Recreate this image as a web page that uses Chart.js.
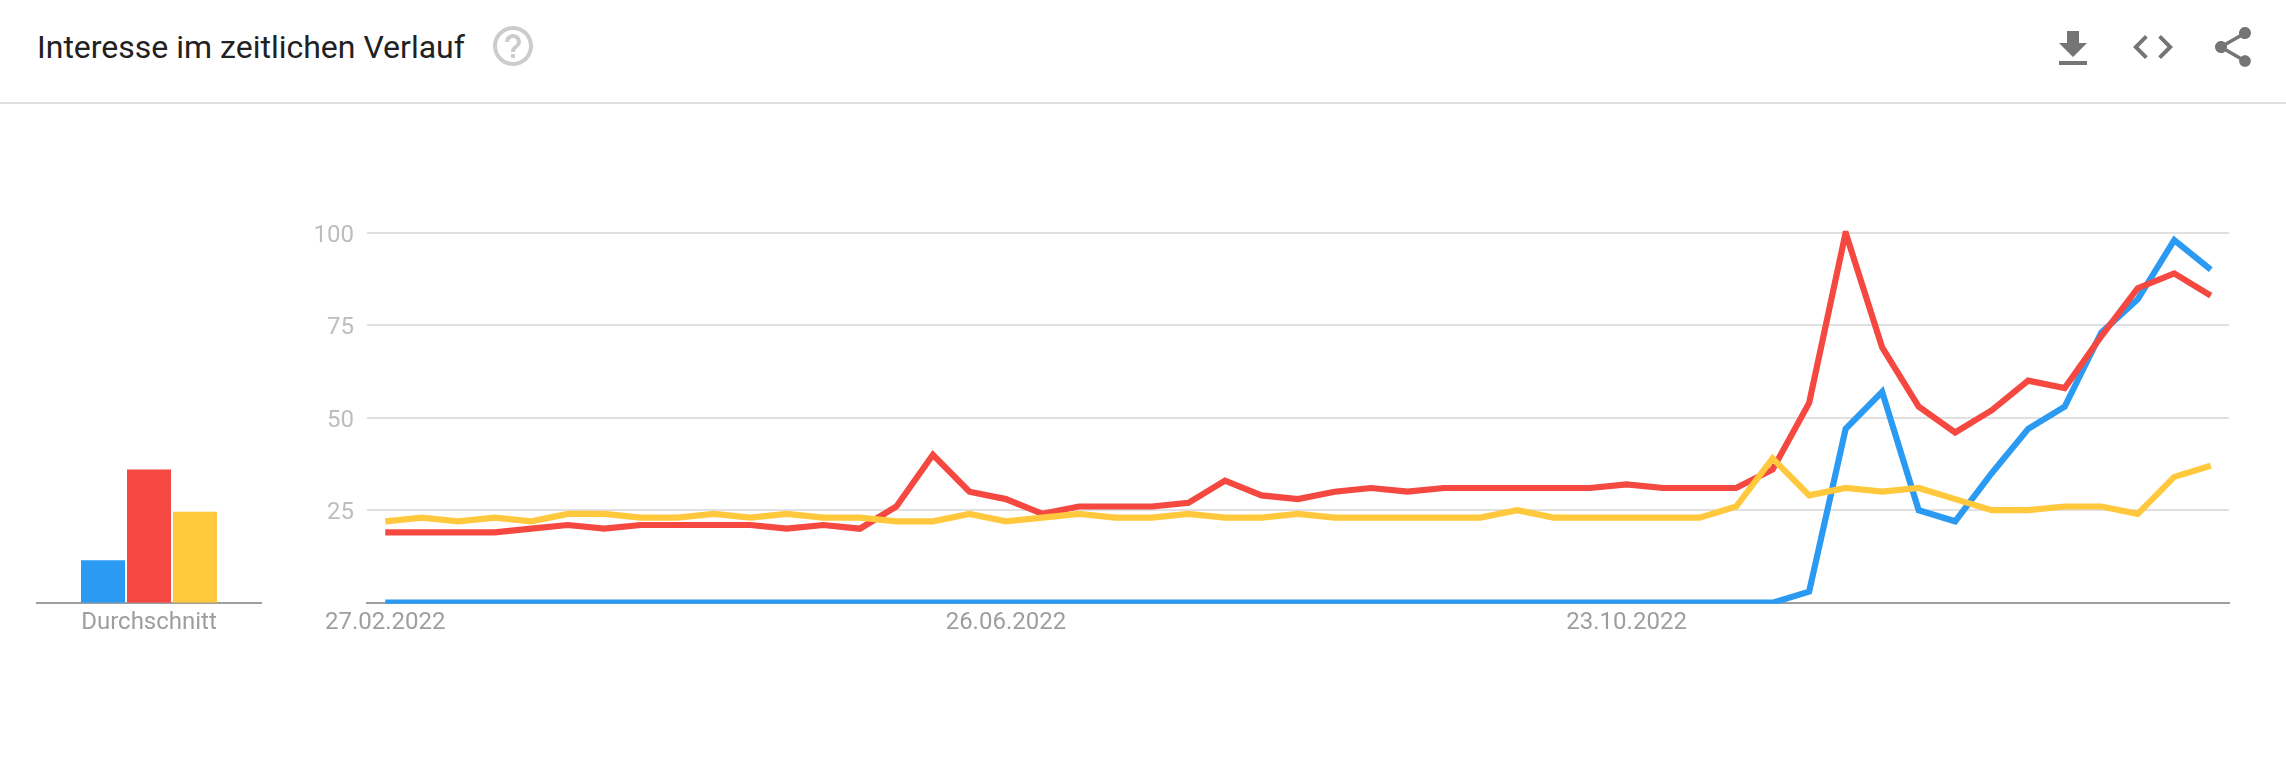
<!DOCTYPE html>
<html lang="de">
<head>
<meta charset="utf-8">
<title>Interesse im zeitlichen Verlauf</title>
<script src="https://cdn.jsdelivr.net/npm/chart.js@4"></script>
<style>
html,body{margin:0;padding:0;background:#fff;width:2286px;height:768px;overflow:hidden;font-family:Roboto,sans-serif}
canvas{position:absolute;left:0;top:0}
#title{position:absolute;left:37px;top:26px;font-size:32px;line-height:42px;color:#212121;white-space:nowrap}
#rule{position:absolute;left:0;top:102px;width:2286px;height:2px;background:#e0e0e0}
svg{position:absolute;width:48px;height:48px}
</style>
</head>
<body>
<div id="title">Interesse im zeitlichen Verlauf</div>
<svg style="left:489px;top:22px" viewBox="0 0 24 24" fill="#cccccc"><path d="M11 18h2v-2h-2v2zm1-16C6.48 2 2 6.48 2 12s4.48 10 10 10 10-4.48 10-10S17.52 2 12 2zm0 18c-4.41 0-8-3.59-8-8s3.59-8 8-8 8 3.59 8 8-3.59 8-8 8zm0-14c-2.21 0-4 1.79-4 4h2c0-1.1.9-2 2-2s2 .9 2 2c0 2-3 1.75-3 5h2c0-2.25 3-2.5 3-5 0-2.21-1.79-4-4-4z"/></svg>
<svg style="left:2049px;top:25px" viewBox="0 0 24 24" fill="#757575"><path d="M19 9h-4V3H9v6H5l7 7 7-7zM5 18v2h14v-2H5z"/></svg>
<svg style="left:2129px;top:23px" viewBox="0 0 24 24" fill="#757575"><path d="M9.4 16.6L4.8 12l4.6-4.6L8 6l-6 6 6 6 1.4-1.4zm5.2 0l4.6-4.6-4.6-4.6L16 6l6 6-6 6-1.4-1.4z"/></svg>
<svg style="left:2209px;top:23px" viewBox="0 0 24 24" fill="#757575"><path d="M18 16.08c-.76 0-1.44.3-1.96.77L8.91 12.7c.05-.23.09-.46.09-.7s-.04-.47-.09-.7l7.05-4.11c.54.5 1.25.81 2.04.81 1.66 0 3-1.34 3-3s-1.34-3-3-3-3 1.34-3 3c0 .24.04.47.09.7L8.04 9.81C7.5 9.31 6.79 9 6 9c-1.66 0-3 1.34-3 3s1.34 3 3 3c.79 0 1.5-.31 2.04-.81l7.12 4.16c-.05.21-.08.43-.08.65 0 1.61 1.31 2.92 2.92 2.92 1.61 0 2.92-1.31 2.92-2.92s-1.31-2.92-2.92-2.92z"/></svg>
<div id="rule"></div>
<canvas id="main" width="2286" height="768"></canvas>
<canvas id="avg" width="300" height="768"></canvas>
<script>
const dates = ["27.02.2022","06.03.2022","13.03.2022","20.03.2022","27.03.2022","03.04.2022","10.04.2022","17.04.2022","24.04.2022","01.05.2022","08.05.2022","15.05.2022","22.05.2022","29.05.2022","05.06.2022","12.06.2022","19.06.2022","26.06.2022","03.07.2022","10.07.2022","17.07.2022","24.07.2022","31.07.2022","07.08.2022","14.08.2022","21.08.2022","28.08.2022","04.09.2022","11.09.2022","18.09.2022","25.09.2022","02.10.2022","09.10.2022","16.10.2022","23.10.2022","30.10.2022","06.11.2022","13.11.2022","20.11.2022","27.11.2022","04.12.2022","11.12.2022","18.12.2022","25.12.2022","01.01.2023","08.01.2023","15.01.2023","22.01.2023","29.01.2023","05.02.2023","12.02.2023"];
const shownDates = ["27.02.2022","26.06.2022","23.10.2022"];
const blue = [0,0,0,0,0,0,0,0,0,0,0,0,0,0,0,0,0,0,0,0,0,0,0,0,0,0,0,0,0,0,0,0,0,0,0,0,0,0,0,3,47,57,25,22,35,47,53,73,82,98,90];
const red = [19,19,19,19,20,21,20,21,21,21,21,20,21,20,26,40,30,28,24,26,26,26,27,33,29,28,30,31,30,31,31,31,31,31,32,31,31,31,36,54,100,69,53,46,52,60,58,72,85,89,83];
const yellow = [22,23,22,23,22,24,24,23,23,24,23,24,23,23,22,22,24,22,23,24,23,23,24,23,23,24,23,23,23,23,23,25,23,23,23,23,23,26,39,29,31,30,31,28,25,25,26,26,24,34,37];
const avgLabel = ["Durchschnitt"];
const avgBlue = [11.5];
const avgRed = [36];
const avgYellow = [24.6];
const yTicks = [25,50,75,100];

const BLUE = "#2b9af3", RED = "#f44840", YELLOW = "#ffc83d";
const font = {family:"Roboto", size:24, weight:"400"};

function line(label, data, color, order){
  return {label, data, order, borderColor:color, backgroundColor:color, borderWidth:6.2,
          tension:0, pointRadius:0, borderJoinStyle:"miter", borderCapStyle:"butt", fill:false,
          clip:{top:2, bottom:1, left:10, right:10}};
}

new Chart(document.getElementById("main"), {
  type:"line",
  data:{labels:dates, datasets:[
    line("Blau", blue, BLUE, 3),
    line("Rot", red, RED, 2),
    line("Gelb", yellow, YELLOW, 1)
  ]},
  options:{
    responsive:false, animation:false, devicePixelRatio:1,
    layout:{padding:{top:232.7,right:57,left:0,bottom:0}},
    plugins:{legend:{display:false}, title:{display:false}, tooltip:{enabled:false}},
    scales:{
      x:{
        type:"category", offset:true,
        afterFit(s){ s.height = 165.3; },
        grid:{display:false, drawTicks:false},
        border:{display:true, color:"#9e9e9e", width:2},
        ticks:{autoSkip:false, maxRotation:0, minRotation:0, padding:6, labelOffset:0, color:"#9e9e9e", font,
          callback(v){ const d = this.getLabelForValue(v); return shownDates.includes(d) ? d : ""; }}
      },
      y:{
        min:0, max:100,
        afterFit(s){ s.width = 367; },
        afterBuildTicks(s){ s.ticks = [0].concat(yTicks).map(value => ({value})); },
        grid:{color:"#e0e0e0", lineWidth:2, drawTicks:false},
        border:{display:false},
        ticks:{padding:13, labelOffset:3, color:"#bdbdbd", font, callback(v){ return yTicks.includes(v) ? String(v) : ""; }}
      }
    }
  }
});

new Chart(document.getElementById("avg"), {
  type:"bar",
  data:{labels:avgLabel, datasets:[
    {label:"Blau", data:avgBlue, backgroundColor:BLUE},
    {label:"Rot", data:avgRed, backgroundColor:RED},
    {label:"Gelb", data:avgYellow, backgroundColor:YELLOW}
  ]},
  options:{
    responsive:false, animation:false, devicePixelRatio:1,
    layout:{padding:{top:232.7,left:37,right:39,bottom:0}},
    datasets:{bar:{categoryPercentage:138/224, barPercentage:44/46}},
    plugins:{legend:{display:false}, tooltip:{enabled:false}},
    scales:{
      x:{
        afterFit(s){ s.height = 165.3; },
        grid:{display:false, drawTicks:false},
        border:{display:true, color:"#9e9e9e", width:2},
        ticks:{padding:6, color:"#9e9e9e", font}
      },
      y:{min:0, max:100, display:false}
    }
  }
});
</script>
</body>
</html>
